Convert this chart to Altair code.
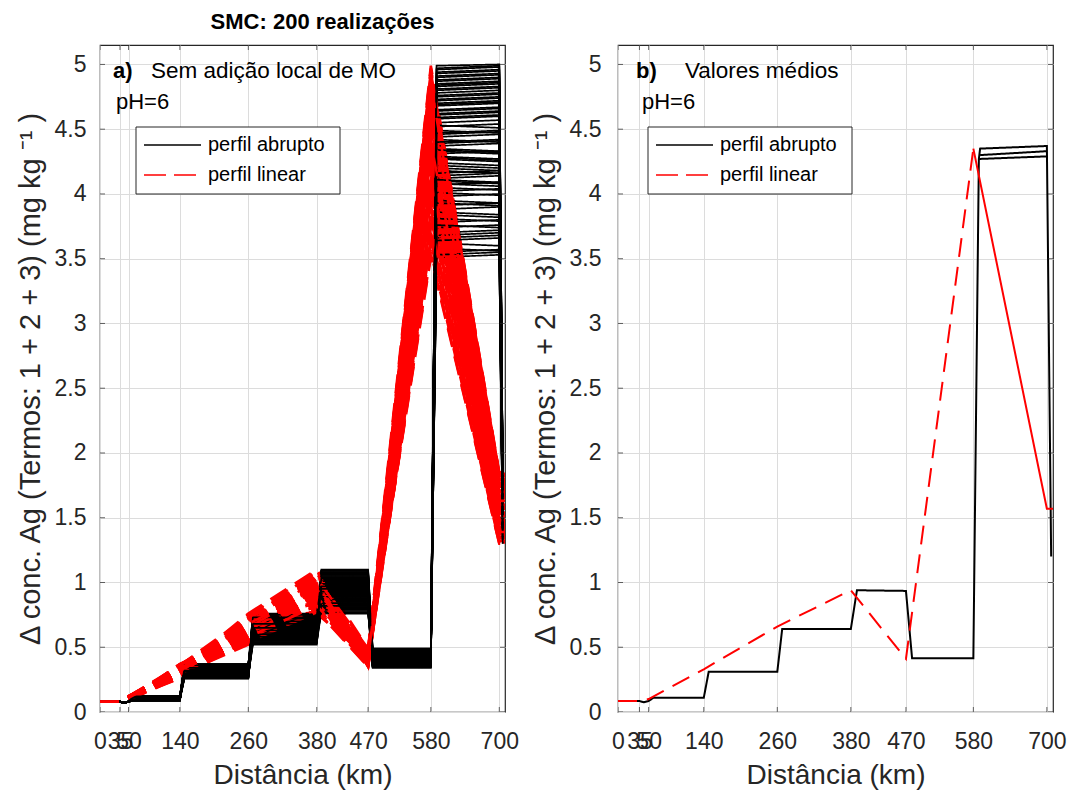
import altair as alt
import pandas as pd

FONT = "Liberation Sans, Arial, Helvetica, sans-serif"
AXIS_GRAY = "#262626"

X_TICKS = [0, 35, 50, 140, 260, 380, 470, 580, 700]
Y_TICKS = [0, 0.5, 1, 1.5, 2, 2.5, 3, 3.5, 4, 4.5, 5]
X_MAX = 710
Y_MAX = 5.15
SERIES = ["perfil abrupto", "perfil linear"]

# ---- panel a: 200 realizations (a subset of 80) ----
X_ABRUPTO = [0, 35, 42, 50, 58, 140, 148, 260, 268, 380, 388, 470, 478, 580, 590, 700, 706]
X_LINEAR = [0, 35, 50, 140, 260, 380, 470, 580, 700, 710]
L_START = 0.08
L_DIP = 0.07

L1 = [0.10, 0.11, 0.09, 0.12, 0.10, 0.11, 0.10, 0.12, 0.09, 0.11,
      0.10, 0.11, 0.12, 0.10, 0.09, 0.11, 0.10, 0.12, 0.11, 0.10,
      0.09, 0.11, 0.10, 0.12, 0.11, 0.10, 0.09, 0.11, 0.12, 0.10,
      0.11, 0.10, 0.09, 0.12, 0.11, 0.10, 0.11, 0.12, 0.10, 0.09,
      0.11, 0.10, 0.12, 0.11, 0.10, 0.09, 0.11, 0.10, 0.12, 0.11,
      0.10, 0.12, 0.11, 0.09, 0.10, 0.11, 0.12, 0.10, 0.11, 0.09,
      0.12, 0.10, 0.11, 0.10, 0.09, 0.12, 0.11, 0.10, 0.11, 0.12,
      0.10, 0.09, 0.11, 0.12, 0.10, 0.11, 0.09, 0.10, 0.12, 0.11]
L2 = [0.31, 0.28, 0.35, 0.27, 0.33, 0.30, 0.36, 0.29, 0.32, 0.26,
      0.34, 0.31, 0.28, 0.37, 0.30, 0.33, 0.27, 0.35, 0.29, 0.32,
      0.31, 0.36, 0.28, 0.34, 0.30, 0.26, 0.33, 0.29, 0.35, 0.31,
      0.27, 0.32, 0.37, 0.30, 0.28, 0.34, 0.31, 0.29, 0.36, 0.33,
      0.30, 0.27, 0.35, 0.32, 0.28, 0.31, 0.34, 0.29, 0.33, 0.30,
      0.29, 0.34, 0.31, 0.27, 0.36, 0.30, 0.33, 0.28, 0.35, 0.32,
      0.26, 0.31, 0.34, 0.29, 0.37, 0.30, 0.28, 0.33, 0.32, 0.27,
      0.35, 0.31, 0.29, 0.36, 0.30, 0.33, 0.28, 0.34, 0.31, 0.32]
L3 = [0.64, 0.58, 0.71, 0.55, 0.67, 0.61, 0.74, 0.53, 0.69, 0.62,
      0.66, 0.57, 0.72, 0.60, 0.65, 0.54, 0.70, 0.63, 0.59, 0.76,
      0.61, 0.68, 0.56, 0.73, 0.64, 0.60, 0.67, 0.52, 0.70, 0.63,
      0.58, 0.66, 0.62, 0.75, 0.57, 0.69, 0.64, 0.61, 0.72, 0.55,
      0.67, 0.60, 0.65, 0.71, 0.59, 0.63, 0.68, 0.56, 0.66, 0.62,
      0.60, 0.70, 0.55, 0.66, 0.63, 0.74, 0.58, 0.68, 0.53, 0.65,
      0.71, 0.62, 0.57, 0.69, 0.64, 0.75, 0.59, 0.67, 0.54, 0.72,
      0.61, 0.66, 0.56, 0.70, 0.63, 0.60, 0.73, 0.58, 0.65, 0.68]
L4 = [0.94, 0.85, 1.05, 0.79, 0.98, 0.90, 1.09, 0.82, 1.01, 0.93,
      0.88, 1.03, 0.77, 0.96, 0.91, 1.07, 0.84, 0.99, 0.87, 1.10,
      0.92, 0.81, 1.02, 0.95, 0.86, 1.06, 0.78, 0.97, 0.89, 1.04,
      0.93, 0.83, 1.00, 0.96, 0.80, 1.08, 0.90, 0.95, 0.85, 1.01,
      0.97, 0.88, 1.03, 0.92, 0.76, 0.99, 0.94, 0.87, 1.05, 0.91,
      0.90, 1.02, 0.83, 0.97, 0.88, 1.06, 0.79, 0.95, 1.00, 0.86,
      1.09, 0.92, 0.81, 0.98, 0.94, 1.04, 0.87, 0.96, 0.77, 1.01,
      0.91, 1.07, 0.84, 0.99, 0.93, 0.89, 1.03, 0.82, 0.97, 0.95]
L5 = [0.41, 0.37, 0.45, 0.35, 0.43, 0.39, 0.48, 0.36, 0.44, 0.40,
      0.42, 0.38, 0.46, 0.34, 0.41, 0.47, 0.37, 0.43, 0.39, 0.49,
      0.40, 0.36, 0.44, 0.42, 0.38, 0.45, 0.35, 0.41, 0.43, 0.37,
      0.46, 0.39, 0.42, 0.36, 0.44, 0.40, 0.38, 0.47, 0.41, 0.35,
      0.43, 0.39, 0.45, 0.37, 0.42, 0.40, 0.44, 0.36, 0.41, 0.38,
      0.39, 0.44, 0.36, 0.42, 0.47, 0.38, 0.41, 0.45, 0.35, 0.43,
      0.40, 0.48, 0.37, 0.42, 0.39, 0.46, 0.36, 0.44, 0.41, 0.38,
      0.43, 0.35, 0.45, 0.40, 0.37, 0.42, 0.49, 0.39, 0.44, 0.41]
L6 = [4.31, 3.62, 4.87, 4.05, 4.55, 3.78, 4.99, 4.20, 4.68, 3.91,
      4.42, 4.76, 3.55, 4.14, 4.93, 4.35, 3.70, 4.61, 4.27, 4.83,
      3.98, 4.49, 4.72, 3.84, 4.39, 4.96, 4.10, 4.58, 3.66, 4.80,
      4.24, 4.65, 4.02, 4.90, 3.51, 4.46, 4.73, 4.18, 4.52, 3.88,
      4.85, 4.33, 4.07, 4.62, 3.95, 4.78, 4.28, 4.44, 4.70, 4.12,
      3.58, 4.91, 4.22, 3.74, 4.64, 4.08, 4.81, 3.86, 4.37, 4.97,
      3.68, 4.53, 4.16, 4.75, 3.93, 4.88, 4.29, 3.53, 4.69, 4.01,
      4.47, 3.81, 4.94, 4.34, 3.64, 4.59, 4.11, 4.84, 3.76, 4.40]
L6_END = [4.33, 3.60, 4.89, 4.03, 4.57, 3.80, 5.00, 4.18, 4.70, 3.93,
          4.40, 4.78, 3.57, 4.16, 4.95, 4.33, 3.72, 4.63, 4.25, 4.85,
          4.00, 4.47, 4.74, 3.82, 4.41, 4.98, 4.08, 4.60, 3.68, 4.82,
          4.22, 4.67, 4.04, 4.92, 3.53, 4.48, 4.75, 4.16, 4.54, 3.90,
          4.87, 4.31, 4.09, 4.64, 3.93, 4.80, 4.26, 4.46, 4.72, 4.14,
          3.56, 4.93, 4.20, 3.76, 4.66, 4.06, 4.83, 3.84, 4.39, 4.99,
          3.70, 4.51, 4.18, 4.77, 3.91, 4.90, 4.27, 3.55, 4.71, 3.99,
          4.49, 3.79, 4.96, 4.32, 3.66, 4.61, 4.09, 4.86, 3.74, 4.42]
E = [1.55, 1.38, 1.78, 1.45, 1.66, 1.33, 1.84, 1.50, 1.71, 1.42,
     1.60, 1.74, 1.31, 1.52, 1.81, 1.58, 1.36, 1.69, 1.48, 1.76,
     1.40, 1.63, 1.72, 1.35, 1.57, 1.83, 1.46, 1.67, 1.34, 1.79,
     1.53, 1.70, 1.44, 1.82, 1.30, 1.61, 1.75, 1.49, 1.64, 1.39,
     1.80, 1.56, 1.43, 1.68, 1.37, 1.77, 1.54, 1.59, 1.73, 1.47,
     1.32, 1.83, 1.56, 1.41, 1.72, 1.50, 1.79, 1.44, 1.62, 1.85,
     1.37, 1.67, 1.53, 1.76, 1.46, 1.81, 1.58, 1.30, 1.74, 1.48,
     1.65, 1.40, 1.84, 1.60, 1.35, 1.70, 1.51, 1.78, 1.39, 1.63]

# ---- panel b: mean values ----
MEAN_ABRUPTO_X = [0, 35, 42, 50, 58, 140, 148, 260, 268, 380, 390, 470, 480, 580, 589, 591, 700, 707]
MEAN_ABRUPTO_Y = [0.085, 0.085, 0.075, 0.085, 0.11, 0.11, 0.31, 0.31, 0.64, 0.64, 0.94, 0.935,
                  0.415, 0.415, 4.27, 4.35, 4.37, 1.2]
MEAN_ABRUPTO_B_X = [591, 700]
MEAN_ABRUPTO_B_Y = [4.30, 4.33]
MEAN_ABRUPTO_C_X = [589, 700]
MEAN_ABRUPTO_C_Y = [4.27, 4.29]
MEAN_LINEAR_X = [0, 35, 50, 140, 260, 380, 470, 580]
MEAN_LINEAR_Y = [0.085, 0.085, 0.10, 0.33, 0.66, 0.94, 0.41, 4.35]
MEAN_LINEAR_TAIL_X = [580, 700, 710]
MEAN_LINEAR_TAIL_Y = [4.35, 1.57, 1.57]

Y_TITLE = "Δ conc. Ag (Termos: 1 + 2 + 3) (mg kg ⁻¹ )"
DASH = [19, 10]

# ---------- build tables ----------
rows = []
for i in range(len(L1)):
    yb = [L_START, L_START, L_DIP, L_START, L1[i], L1[i], L2[i], L2[i], L3[i], L3[i],
          L4[i], L4[i], L5[i], L5[i], L6[i], L6_END[i], E[i]]
    for x, y in zip(X_ABRUPTO, yb):
        rows.append({"x": x, "y": y, "perfil": SERIES[0], "run": f"r{i:03d}a"})
    yl = [L_START, L_START, L1[i], L2[i], L3[i], L4[i], L5[i], L6[i], E[i], E[i]]
    for x, y in zip(X_LINEAR, yl):
        rows.append({"x": x, "y": y, "perfil": SERIES[1], "run": f"r{i:03d}b"})
df_left = pd.DataFrame(rows)

mrows = []
for seg, xs, ys, p in [("m1", MEAN_ABRUPTO_X, MEAN_ABRUPTO_Y, SERIES[0]),
                       ("m2", MEAN_ABRUPTO_B_X, MEAN_ABRUPTO_B_Y, SERIES[0]),
                       ("m3", MEAN_ABRUPTO_C_X, MEAN_ABRUPTO_C_Y, SERIES[0]),
                       ("m4", MEAN_LINEAR_X, MEAN_LINEAR_Y, SERIES[1])]:
    for x, y in zip(xs, ys):
        mrows.append({"x": x, "y": y, "perfil": p, "run": seg})
df_mean = pd.DataFrame(mrows)
df_tail = pd.DataFrame({"x": MEAN_LINEAR_TAIL_X, "y": MEAN_LINEAR_TAIL_Y})

# inward box ticks (MATLAB style) on all four sides
df_xt = pd.DataFrame([{"x": t, "y": y} for t in X_TICKS for y in (0, Y_MAX)])
df_yt = pd.DataFrame([{"x": x, "y": t} for t in Y_TICKS for x in (0, X_MAX)])

ONE = pd.DataFrame({"d": [0]})

# ---------- shared encodings ----------
xscale = alt.Scale(domain=[0, X_MAX], nice=False, zero=False)
yscale = alt.Scale(domain=[0, Y_MAX], nice=False)


def xenc():
    return alt.X("x:Q", scale=xscale, title="Distância (km)",
                 axis=alt.Axis(values=X_TICKS, labelOverlap=False, labelPadding=18,
                               titlePadding=8, labelFlush=False))


def yenc(pad):
    return alt.Y("y:Q", scale=yscale, title=Y_TITLE,
                 axis=alt.Axis(values=Y_TICKS, format="~g", labelPadding=pad, titlePadding=9,
                               titleFontSize=29))


def color_enc():
    return alt.Color("perfil:N", scale=alt.Scale(domain=SERIES, range=["black", "red"]), legend=None)


def dash_enc():
    return alt.StrokeDash("perfil:N", scale=alt.Scale(domain=SERIES, range=[[1, 0], DASH]), legend=None)


def box_ticks():
    xt = alt.Chart(df_xt).mark_tick(orient="vertical", size=10, thickness=1, color=AXIS_GRAY,
                                    clip=True).encode(
        x=alt.X("x:Q", scale=xscale), y=alt.Y("y:Q", scale=yscale))
    yt = alt.Chart(df_yt).mark_tick(orient="horizontal", size=10, thickness=1, color=AXIS_GRAY,
                                    clip=True).encode(
        x=alt.X("x:Q", scale=xscale), y=alt.Y("y:Q", scale=yscale))
    return [xt, yt]


def label(txt, x, y, bold=False, size=22, baseline="alphabetic"):
    return alt.Chart(ONE).mark_text(
        text=txt, align="left", baseline=baseline, font=FONT, fontSize=size,
        fontWeight="bold" if bold else "normal", color="black"
    ).encode(x=alt.value(x), y=alt.value(y))


def legend_box(x0, x1, y0, y1, sx0, sx1, tx, ry1, ry2):
    box = alt.Chart(ONE).mark_rect(fill="white", stroke=AXIS_GRAY, strokeWidth=1).encode(
        x=alt.value(x0), x2=alt.value(x1), y=alt.value(y0), y2=alt.value(y1))
    r1 = alt.Chart(ONE).mark_rule(color="black", strokeWidth=1.5).encode(
        x=alt.value(sx0), x2=alt.value(sx1), y=alt.value(ry1))
    r2 = alt.Chart(ONE).mark_rule(color="red", strokeWidth=1.5, strokeDash=[22, 8]).encode(
        x=alt.value(sx0), x2=alt.value(sx1), y=alt.value(ry2))
    t1 = label(SERIES[0], tx, ry1, size=20, baseline="middle")
    t2 = label(SERIES[1], tx, ry2, size=20, baseline="middle")
    return [box, r1, r2, t1, t2]


# ---------- panel a ----------
lines_a = alt.Chart(df_left).mark_line(clip=True).encode(
    x=xenc(), y=yenc(14),
    color=color_enc(), strokeDash=dash_enc(),
    strokeWidth=alt.StrokeWidth("perfil:N", scale=alt.Scale(domain=SERIES, range=[1.7, 2.6]), legend=None),
    detail="run:N",
)
panel_a = alt.layer(
    lines_a,
    *box_ticks(),
    *legend_box(36, 240, 82, 149, 44, 101, 108, 100, 130),
    label("a)", 13, 33, bold=True),
    label("Sem adição local de MO", 51, 33, size=22.5),
    label("pH=6", 16, 64),
).properties(
    width=405, height=667,
    title=alt.Title("SMC: 200 realizações", font=FONT, fontSize=22, fontWeight="bold",
                    color="black", anchor="middle", offset=11.5, dx=20),
)

# ---------- panel b ----------
lines_b = alt.Chart(df_mean).mark_line(clip=True, strokeWidth=2).encode(
    x=xenc(), y=yenc(17),
    color=color_enc(), strokeDash=dash_enc(),
    detail="run:N",
)
tail_b = alt.Chart(df_tail).mark_line(clip=True, strokeWidth=2, color="red").encode(
    x=alt.X("x:Q", scale=xscale), y=alt.Y("y:Q", scale=yscale),
)
panel_b = alt.layer(
    lines_b, tail_b,
    *box_ticks(),
    *legend_box(30, 234, 82, 149, 38, 95, 102, 100, 130),
    label("b)", 18, 33, bold=True),
    label("Valores médios", 67, 33, size=22.5),
    label("pH=6", 24, 64),
).properties(width=435, height=667)

chart = alt.hconcat(panel_a, panel_b, spacing=113, bounds="flush").properties(
    padding={"left": 15, "top": 9, "right": 5, "bottom": 5}
).configure_axis(
    labelFont=FONT, titleFont=FONT, labelFontSize=23, titleFontSize=28,
    labelColor=AXIS_GRAY, titleColor=AXIS_GRAY, titleFontWeight="normal",
    gridColor="#dcdcdc", gridWidth=1, domain=False, ticks=False, tickSize=0,
).configure_view(stroke=AXIS_GRAY, strokeWidth=1.2)

chart.save("out.html", embed_options={"renderer": "svg", "actions": False})
